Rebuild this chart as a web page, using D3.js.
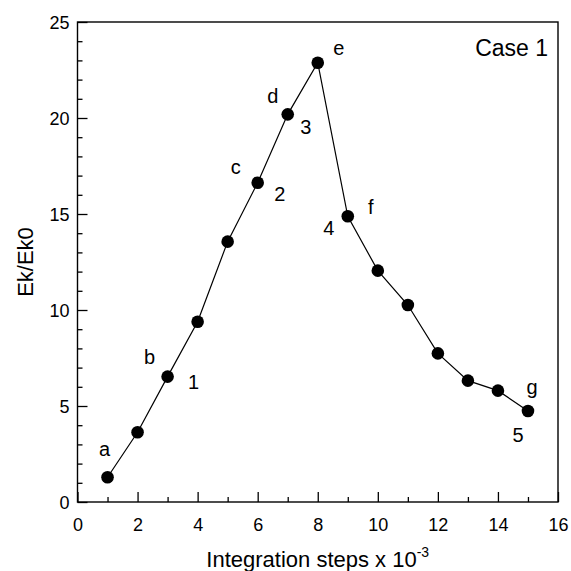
<!DOCTYPE html>
<html><head><meta charset="utf-8">
<script src="https://cdn.jsdelivr.net/npm/d3@7"></script>
<style>body{margin:0;background:#fff}svg{display:block}text{font-family:"Liberation Sans",Arial,Helvetica,sans-serif;fill:#000}</style>
</head><body>
<svg id="c" width="571" height="571"></svg>
<script>
// Data
const steps = [1,2,3,4,5,6,7,8,9,10,11,12,13,14,15];
const ekRatio = [1.29,3.63,6.53,9.39,13.56,16.63,20.19,22.88,14.88,12.05,10.26,7.74,6.32,5.80,4.74];
const xTicks = [0,2,4,6,8,10,12,14,16];
const yTicks = [0,5,10,15,20,25];
const xMinor = [1,3,5,7,9,11,13,15];
const yMinor = [1,2,3,4,6,7,8,9,11,12,13,14,16,17,18,19,21,22,23,24];
const annoText  = ["a","b","1","c","2","d","3","e","f","4","g","5"];
const annoPoint = [0,2,2,5,5,6,6,7,8,8,14,14];
const caseLabel = "Case 1";
const xTitle = "Integration steps x 10";
const xTitleSup = "-3";
const yTitle = "Ek/Ek0";

// layout / style (not data)
const annoOffset = [[-3,-28],[-18,-20],[26,5],[-22,-16],[22,11],[-15,-18],[18,13],[21,-15],[23,-9],[-19,12],[4,-24],[-10,24]];
const L=77.5, R=558, T=22, B=502;
const svg = d3.select("#c");
const x = d3.scaleLinear().domain([0,16]).range([L,R]);
const y = d3.scaleLinear().domain([0,25]).range([B,T]);

// frame
svg.append("rect").attr("x",L).attr("y",T).attr("width",R-L).attr("height",B-T)
  .attr("fill","none").attr("stroke","#000").attr("stroke-width",1.4);

// axes with inward ticks
const gx = svg.append("g").attr("transform",`translate(0,${B})`)
  .call(d3.axisBottom(x).tickValues(xTicks).tickSize(-10).tickPadding(16).tickFormat(d3.format("d")));
const gxm = svg.append("g").attr("transform",`translate(0,${B})`)
  .call(d3.axisBottom(x).tickValues(xMinor).tickSize(-5).tickFormat(""));
const gy = svg.append("g").attr("transform",`translate(${L},0)`)
  .call(d3.axisLeft(y).tickValues(yTicks).tickSize(-10).tickPadding(18).tickFormat(d3.format("d")));
const gym = svg.append("g").attr("transform",`translate(${L},0)`)
  .call(d3.axisLeft(y).tickValues(yMinor).tickSize(-5).tickFormat(""));
[gx,gxm,gy,gym].forEach(g=>{
  g.select(".domain").remove();
  g.selectAll(".tick line").attr("stroke","#000").attr("stroke-width",1.3);
  g.selectAll(".tick text").attr("font-size",18).attr("fill","#000")
    .style("font-family",'"Liberation Sans",Arial,sans-serif');
});
gy.selectAll(".tick text").attr("dx",10).attr("dy","0.36em");
gx.selectAll(".tick text").attr("dy","0.72em");

// line and points
const line = d3.line().x((d,i)=>x(steps[i])).y(d=>y(d));
svg.append("path").datum(ekRatio).attr("d",line).attr("fill","none").attr("stroke","#000").attr("stroke-width",1.2);
svg.selectAll("circle.pt").data(ekRatio).enter().append("circle").attr("class","pt")
  .attr("cx",(d,i)=>x(steps[i])).attr("cy",d=>y(d)).attr("r",6.3).attr("fill","#000");

// annotations
svg.selectAll("text.anno").data(annoText).enter().append("text").attr("class","anno")
  .attr("x",(d,i)=>x(steps[annoPoint[i]])+annoOffset[i][0])
  .attr("y",(d,i)=>y(ekRatio[annoPoint[i]])+annoOffset[i][1])
  .attr("text-anchor","middle").attr("dominant-baseline","central")
  .attr("font-size",20).text(d=>d);

svg.append("text").attr("x",548).attr("y",48).attr("text-anchor","end").attr("dominant-baseline","central")
  .attr("font-size",23).text(caseLabel);

// axis titles
const xt = svg.append("text").attr("x",(L+R)/2).attr("y",567).attr("text-anchor","middle").attr("font-size",22);
xt.append("tspan").text(xTitle);
xt.append("tspan").attr("dy",-10).attr("font-size",14).text(xTitleSup);

svg.append("text").attr("transform",`translate(33,${(T+B)/2}) rotate(-90)`).attr("text-anchor","middle")
  .attr("font-size",22).text(yTitle);
</script>
</body></html>
